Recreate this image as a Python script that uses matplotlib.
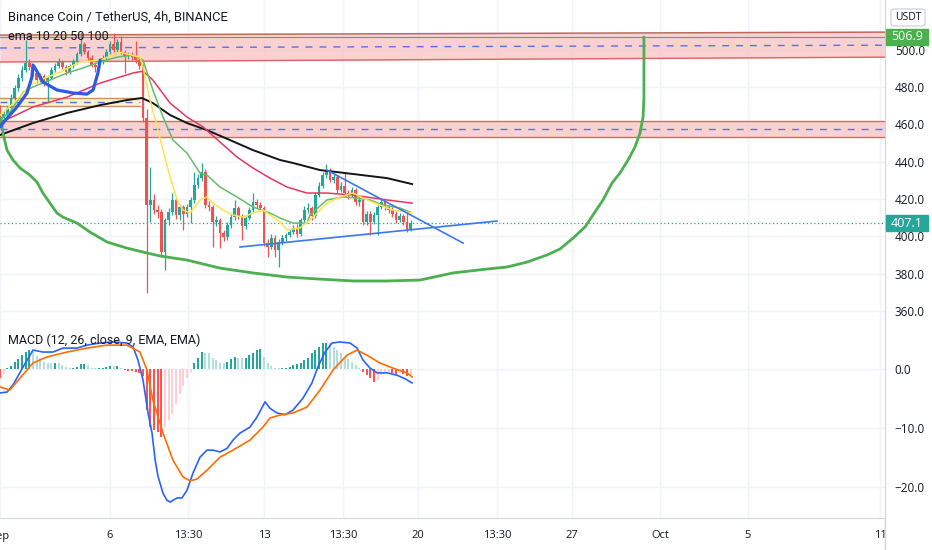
import matplotlib
matplotlib.use("Agg")
import matplotlib.pyplot as plt
import matplotlib.transforms as mtransforms
from matplotlib.patches import Rectangle, FancyBboxPatch

plt.rcParams['font.family'] = ['Open Sans', 'DejaVu Sans']

# ---- price data: 4h candles, x in days of September (first candle Sep 1 00:00)
first_open = 468.7
closes = [463.4, 465.5, 468.7, 474.1, 479.4, 484.8, 489.1, 492.8, 490.7, 487.5,
          483.7, 485.9, 482.7, 484.8, 489.1, 491.2, 493.4, 490.7, 488.0, 491.2,
          493.4, 497.7, 503.0, 498.7, 495.5, 491.8, 490.7, 493.4, 495.5, 498.7,
          503.0, 499.8, 504.1, 498.7, 496.6, 497.7, 496.0, 494.4, 491.2, 463.4,
          416.8, 419.5, 414.1, 413.0, 391.6, 408.7, 413.0, 419.5, 411.4, 415.7,
          412.0, 415.7, 419.5, 427.5, 431.2, 434.5, 416.8, 415.7, 407.7, 408.7,
          401.8, 399.6, 406.1, 410.3, 415.2, 410.9, 405.5, 409.8, 414.1, 418.4,
          416.8, 415.2, 396.4, 394.3, 399.1, 392.7, 397.0, 399.1, 400.7, 402.3,
          404.5, 401.2, 408.7, 414.1, 415.2, 410.9, 422.1, 427.0, 432.8, 435.5,
          430.2, 431.8, 424.8, 427.0, 423.2, 422.1, 424.8, 418.4, 419.5, 407.7,
          412.0, 407.7, 411.4, 415.7, 418.4, 415.7, 414.1, 412.0, 408.7, 410.9,
          407.7, 403.9, 407.1]
highs = [470.5, 467.0, 470.0, 476.0, 481.0, 487.0, 491.0, 505.0, 495.0, 492.0,
         489.0, 487.5, 487.0, 486.5, 490.5, 493.0, 495.5, 494.5, 492.0, 492.5,
         495.0, 499.0, 509.5, 504.0, 500.0, 497.0, 493.5, 494.5, 497.0, 500.5,
         504.5, 509.0, 505.5, 507.5, 500.0, 499.0, 499.0, 504.5, 496.0, 492.5,
         468.0, 437.0, 422.5, 417.0, 414.5, 410.0, 415.0, 423.0, 421.0, 417.5,
         417.0, 417.5, 421.0, 434.5, 433.5, 439.5, 436.0, 419.0, 417.0, 411.0,
         410.0, 403.5, 407.5, 412.0, 419.5, 416.5, 412.0, 411.0, 415.5, 423.0,
         420.0, 418.5, 416.5, 398.5, 401.0, 400.5, 398.5, 400.5, 402.0, 404.0,
         406.0, 406.5, 410.0, 416.0, 418.0, 416.5, 423.5, 429.0, 434.5, 438.5,
         436.5, 434.0, 433.0, 429.0, 434.5, 425.0, 426.5, 426.0, 421.5, 421.0,
         413.5, 413.5, 413.0, 417.0, 420.0, 419.5, 417.0, 415.5, 413.5, 412.5,
         412.0, 413.5, 408.5]
lows = [460.0, 461.5, 464.0, 467.5, 473.0, 478.0, 483.0, 488.0, 489.0, 486.0,
        482.0, 482.5, 480.5, 472.0, 483.5, 488.0, 490.0, 489.5, 486.5, 487.0,
        490.0, 492.5, 496.5, 497.5, 494.0, 490.5, 488.0, 489.5, 492.5, 494.5,
        497.5, 498.5, 498.5, 497.5, 487.5, 495.0, 494.5, 493.0, 489.5, 461.0,
        369.5, 407.5, 412.0, 410.0, 389.0, 382.0, 406.0, 411.5, 409.5, 409.0,
        403.5, 410.5, 407.0, 418.0, 426.0, 429.5, 415.0, 413.5, 394.5, 405.5,
        393.5, 397.5, 398.0, 404.5, 409.0, 409.5, 398.0, 404.0, 408.5, 413.0,
        415.0, 413.5, 395.0, 389.0, 393.0, 389.0, 383.5, 395.5, 397.5, 399.5,
        401.0, 399.5, 400.0, 407.5, 412.5, 409.0, 410.0, 421.0, 426.0, 431.5,
        429.0, 428.5, 423.0, 423.5, 421.5, 420.0, 421.0, 417.0, 416.5, 406.0,
        406.0, 400.5, 406.5, 400.5, 414.5, 414.0, 412.5, 410.5, 407.0, 407.5,
        406.0, 402.5, 403.0]
opens = [first_open] + closes[:-1]
times = [1 + i / 6 for i in range(len(closes))]

# ---- ema 10 20 50 100
ema10_t = [1.0, 1.68, 2.36, 3.05, 3.73, 4.64, 5.55, 6.45, 7.36, 7.5, 7.82, 8.14, 8.41, 8.73,
           9.05, 9.32, 9.64, 10.09, 10.41, 10.68, 11.14, 11.59, 12.05, 12.5, 12.95, 13.41,
           13.73, 14.05, 14.64, 15.23, 15.86, 16.45, 17.05, 17.68, 18.27, 18.86, 19.5, 19.73]
ema10_v = [465.0, 471.9, 481.1, 484.8, 488.0, 493.4, 494.4, 498.7, 496.0, 490.7, 473.0, 458.6,
           446.2, 431.8, 419.5, 414.1, 412.5, 419.5, 421.1, 417.8, 414.1, 411.4, 410.3, 412.5,
           414.1, 410.3, 407.7, 403.4, 404.5, 410.3, 417.8, 421.1, 423.2, 419.5, 416.8, 414.1,
           413.0, 412.5]
ema20_t = [1.0, 1.455, 2.05, 2.5, 4.05, 4.77, 5.55, 6.32, 7.05, 7.5, 7.95, 8.41, 8.86, 9.5,
           10.09, 10.41, 11.0, 11.77, 12.5, 13.27, 13.73, 14.32, 14.95, 15.09, 15.86, 16.59,
           17.23, 17.82, 18.41, 19.18, 19.64]
ema20_v = [462.3, 466.6, 477.3, 480.0, 487.5, 490.2, 493.4, 496.0, 497.1, 494.4, 478.4, 463.9,
           451.6, 444.6, 433.9, 432.8, 426.4, 421.1, 415.7, 412.5, 409.8, 407.1, 407.1, 411.4,
           419.5, 421.1, 420.5, 419.5, 416.8, 415.2, 413.0]
ema50_t = [1.0, 1.455, 2.5, 4.05, 5.55, 7.05, 7.5, 7.95, 8.73, 9.5, 10.23, 11.0, 11.77, 12.5,
           13.27, 14.05, 14.95, 15.86, 17.05, 18.59, 19.73]
ema50_v = [461.2, 463.4, 469.3, 474.6, 482.1, 487.5, 488.5, 483.7, 471.4, 463.9, 458.6, 450.5,
           442.5, 436.6, 431.2, 426.4, 423.2, 423.2, 422.1, 419.5, 417.8]
ema100_t = [1.0, 2.5, 4.05, 5.55, 6.77, 7.45, 7.95, 8.73, 9.5, 10.41, 11.45, 12.5, 13.73,
            14.32, 15.55, 17.05, 18.59, 19.73]
ema100_v = [454.3, 460.7, 466.1, 470.3, 473.0, 474.1, 471.4, 465.0, 460.7, 456.9, 451.6, 446.2,
            440.9, 439.3, 435.5, 433.4, 431.2, 428.0]

# ---- drawings
zone1_t = [1.0, 41.3]
zone1_top = [507.8, 509.4]
zone1_mid = [500.9, 502.4]
zone1_bot = [493.4, 496.0]
zone2_top, zone2_mid, zone2_bot = 461.8, 457.7, 453.2
zone3_t = [1.0, 7.36]
zone3_top, zone3_mid, zone3_bot = 474.1, 472.0, 469.6
hline_green = 506.9
last_price = 407.1

cup_t = [1.045, 1.136, 1.318, 1.59, 1.91, 2.36, 2.68, 2.95, 3.27, 3.59, 3.86, 4.5, 5.09, 5.86,
         6.77, 7.68, 8.27, 9.5, 11.0, 12.5, 14.05, 15.55, 17.05, 18.59, 20.09, 21.59, 23.14,
         24.05, 24.95, 25.86, 26.45, 27.05, 27.59, 27.95, 28.41, 28.82, 29.18, 29.55, 29.86,
         30.09, 30.23, 30.27, 30.27, 30.27]
cup_v = [463.4, 455.3, 446.2, 440.9, 436.6, 432.8, 429.1, 423.2, 417.8, 412.5, 410.3, 407.1,
         402.3, 397.0, 393.7, 391.1, 389.5, 387.3, 383.0, 380.4, 378.2, 377.1, 376.1, 376.1,
         376.6, 380.4, 382.5, 383.6, 386.2, 390.0, 393.2, 399.1, 405.0, 411.4, 419.5, 428.6,
         433.9, 440.9, 447.8, 455.3, 463.9, 474.6, 492.8, 506.8]
brush_t = [1.0, 1.136, 1.77, 2.23, 2.45, 2.5, 2.59, 2.95, 3.59, 4.32, 4.95, 5.23, 5.45, 5.55]
brush_v = [458.6, 460.7, 469.3, 476.8, 485.3, 491.8, 490.2, 482.7, 478.4, 476.8, 476.2, 478.4,
           487.5, 494.4]
trend_low_t, trend_low_v = [11.91, 23.59], [394.3, 408.2]
trend_high_t, trend_high_v = [15.86, 22.05], [435.5, 396.4]

# ---- MACD (12, 26, close, 9)
macd_t = [1.0, 1.32, 1.59, 2.05, 2.5, 2.95, 3.41, 3.86, 4.5, 4.95, 5.55, 6.14, 6.77, 7.05, 7.27,
          7.5, 7.73, 7.91, 8.05, 8.18, 8.41, 8.59, 8.73, 9.05, 9.27, 9.5, 9.77, 10.09, 10.41,
          10.68, 11.0, 11.32, 11.59, 11.91, 12.36, 12.68, 13.05, 13.27, 13.59, 13.95, 14.32,
          14.77, 15.18, 15.45, 15.77, 16.09, 16.45, 16.91, 17.23, 17.5, 17.82, 18.14, 18.59,
          19.05, 19.41, 19.73]
macd_v = [-4.0, -3.85, -2.65, 0.4, 3.27, 2.93, 2.93, 3.6, 3.6, 4.1, 4.46, 4.63, 4.46, 3.78, 1.58,
          -1.8, -7.4, -10.8, -15.3, -18.1, -21.0, -22.2, -22.5, -21.8, -21.8, -20.5, -17.6,
          -14.9, -13.7, -13.7, -14.0, -13.4, -12.0, -10.8, -9.8, -8.1, -5.5, -6.6, -7.4, -7.7,
          -6.9, -4.9, -2.3, 0.4, 2.9, 4.46, 4.63, 4.46, 3.6, 1.58, 0.2, -0.6, -0.6, -1.0, -1.6,
          -2.3]
signal_t = [1.0, 1.45, 1.91, 2.5, 3.14, 4.05, 4.95, 5.86, 6.77, 7.36, 7.68, 7.95, 8.41, 8.86,
            9.32, 9.64, 9.95, 10.41, 11.0, 11.59, 12.36, 12.95, 13.27, 13.73, 14.32, 14.95,
            15.55, 16.14, 16.77, 17.23, 17.68, 18.27, 18.86, 19.5, 19.73]
signal_v = [-3.0, -3.5, -1.5, 1.07, 2.1, 2.93, 3.6, 4.1, 4.1, 2.93, -0.1, -5.2, -10.8, -15.4,
            -18.25, -18.9, -18.6, -17.1, -14.9, -13.7, -12.0, -9.8, -8.25, -7.75, -7.4, -6.4,
            -3.5, -0.1, 2.4, 3.27, 2.4, 1.07, 0.2, -0.6, -1.3]
hist = [-1.5, -0.8, 0.2, 0.6, 1.3, 1.7, 2.4, 3.0, 3.2, 3.0,
        2.3, 1.9, 1.3, 1.1, 1.0, 1.1, 1.0, 0.7, 0.45, 0.3,
        0.3, 0.45, 0.85, 0.85, 0.8, 0.3, 0.2, 0.2, 0.3, 0.45,
        0.6, 0.55, 0.6, 0.2, -0.1, -0.2, -0.3, -0.4, -0.7, -1.2,
        -6.9, -9.7, -10.3, -10.6, -11.4, -9.7, -8.6, -7.5, -5.8, -4.1,
        -2.9, -1.5, -0.4, 1.0, 1.9, 3.0, 2.8, 2.7, 1.9, 1.5,
        1.1, 1.0, 1.3, 1.7, 2.1, 2.0, 1.9, 2.0, 2.4, 2.8,
        3.2, 3.5, 2.1, 1.0, 0.6, 0.3, 0.2, 0.25, 0.3, 0.45,
        0.7, 0.85, 1.1, 1.6, 2.0, 2.7, 3.3, 3.8, 4.4, 4.5,
        4.4, 3.8, 3.3, 2.7, 2.1, 1.7, 1.3, 0.7, 0.2, -0.4,
        -1.0, -1.5, -2.1, -1.8, -1.0, -0.6, -0.4, -0.6, -0.85, -0.7,
        -0.8, -1.1, -1.0]

price_ticks = [360, 380, 400, 420, 440, 460, 480, 500]
macd_ticks = [0, -10, -20]
time_ticks = [1, 6, 9.55, 13, 16.6, 20, 23.6, 27, 31, 35, 41]
time_labels = ["Sep", "6", "13:30", "13", "13:30", "20", "13:30", "27", "Oct", "5", "11"]

UP, DOWN = "#26a69a", "#ef5350"
TXT = "#131722"
GRID = "#f0f3fa"
BORDER = "#d1d4dc"

W, H = 932, 550
fig = plt.figure(figsize=(W / 100, H / 100), dpi=100)
ax = fig.add_axes([0, 230 / H, 885 / W, 320 / H])
axm = fig.add_axes([0, 32 / H, 885 / W, 198 / H], sharex=ax)

xmax = 1 + 885 / 22
for a in (ax, axm):
    a.set_xlim(1.0, xmax)
    for s in a.spines.values():
        s.set_visible(False)
    a.spines["right"].set_visible(True)
    a.spines["right"].set_color(BORDER)
    a.spines["bottom"].set_visible(True)
    a.spines["bottom"].set_color(BORDER)
    a.yaxis.tick_right()
    a.tick_params(axis="y", length=0, pad=7, labelsize=8.5, labelcolor=TXT)
    a.set_xticks(time_ticks)
    a.grid(True, color=GRID, lw=1)
    a.set_axisbelow(True)

ax.set_ylim(355.2, 526.6)
ax.set_yticks(price_ticks)
ax.set_yticklabels([f"{v:.1f}" for v in price_ticks])
ax.tick_params(axis="x", length=0, labelbottom=False)

axm.set_ylim(-25.2, 8.36)
axm.set_yticks(macd_ticks)
axm.set_yticklabels([f"{v:.1f}".replace("-", "\u2212") for v in macd_ticks])
axm.set_xticklabels(time_labels)
axm.tick_params(axis="x", length=0, pad=9, labelsize=8, labelcolor=TXT)

# zones
ax.fill_between(zone1_t, zone1_bot, zone1_top, color="#f8c9c9", alpha=0.85, lw=0, zorder=1)
ax.plot(zone1_t, zone1_top, color="#b86a5e", lw=1.1, zorder=2)
ax.plot(zone1_t, zone1_bot, color="#e06262", lw=1.0, zorder=2)
ax.plot(zone1_t, zone1_mid, color="#5b6ef0", lw=1.0, ls=(0, (5, 5)), zorder=2)
ax.axhspan(zone2_bot, zone2_top, color="#f8c9c9", alpha=0.85, lw=0, zorder=1)
ax.axhline(zone2_top, color="#e06262", lw=1.0, zorder=2)
ax.axhline(zone2_bot, color="#e06262", lw=1.0, zorder=2)
ax.axhline(zone2_mid, color="#5b6ef0", lw=1.0, ls=(0, (5, 5)), zorder=2)
ax.fill_between(zone3_t, zone3_bot, zone3_top, color="#fdf0c8", lw=0, zorder=1)
ax.plot(zone3_t, [zone3_top] * 2, color="#c9906a", lw=1.0, zorder=2)
ax.plot(zone3_t, [zone3_bot] * 2, color="#c9906a", lw=1.0, zorder=2)
ax.plot(zone3_t, [zone3_mid] * 2, color="#5b6ef0", lw=1.0, ls=(0, (5, 5)), zorder=2)
ax.axhline(hline_green, color="#4caf50", lw=0.8, zorder=2)
ax.axhline(last_price, color=UP, lw=0.9, ls=(0, (1, 2)), zorder=2)

# candles
for t, o, h, l, c in zip(times, opens, highs, lows, closes):
    col = UP if c >= o else DOWN
    ax.vlines(t, l, h, color=col, lw=0.9, zorder=3)
    ax.bar(t, abs(c - o) if abs(c - o) > 0.3 else 0.3, bottom=min(o, c), width=0.12,
           color=col, lw=0, zorder=3)

# moving averages
ax.plot(ema100_t, ema100_v, color="#141414", lw=1.4, zorder=4)
ax.plot(ema50_t, ema50_v, color="#e8375e", lw=1.1, zorder=4)
ax.plot(ema20_t, ema20_v, color="#66bb6a", lw=1.1, zorder=4)
ax.plot(ema10_t, ema10_v, color="#fbe54a", lw=1.1, zorder=4)

# user drawings
ax.plot(cup_t, cup_v, color="#4caf50", lw=2.0, zorder=5, solid_capstyle="round",
        solid_joinstyle="round")
ax.plot(brush_t, brush_v, color="#2f5ae8", lw=2.3, zorder=5, solid_capstyle="round",
        solid_joinstyle="round")
ax.plot(trend_low_t, trend_low_v, color="#3a78f2", lw=1.2, zorder=5)
ax.plot(trend_high_t, trend_high_v, color="#3a78f2", lw=1.2, zorder=5)

# MACD pane
hist_colors = []
for i, v in enumerate(hist):
    prev = hist[i - 1] if i > 0 else v
    if v >= 0:
        hist_colors.append("#26a69a" if v >= prev else "#b2dfdb")
    else:
        hist_colors.append("#ff5252" if v <= prev else "#ffcdd2")
axm.bar(times, hist, width=0.09, color=hist_colors, lw=0, zorder=3)
axm.plot(macd_t, macd_v, color="#2962ff", lw=1.2, zorder=4, solid_joinstyle="round")
axm.plot(signal_t, signal_v, color="#ff6d00", lw=1.2, zorder=4, solid_joinstyle="round")

# texts
fig.text(8 / W, 1 - 17 / H, "Binance Coin / TetherUS, 4h, BINANCE", fontsize=9.3,
         color=TXT, va="center", ha="left", family=["Roboto", "DejaVu Sans"])
fig.text(8 / W, 1 - 37 / H, "ema 10 20 50 100", fontsize=9, color=TXT, va="center",
         ha="left", family=["Roboto", "DejaVu Sans"])
fig.text(8 / W, 1 - 340 / H, "MACD (12, 26, close, 9, EMA, EMA)", fontsize=9, color=TXT,
         va="center", ha="left", family=["Roboto", "DejaVu Sans"])

# price labels on the scale
tr = mtransforms.blended_transform_factory(fig.transFigure, ax.transData)
for val, col in [(hline_green, "#4caf50"), (last_price, UP)]:
    ax.add_patch(Rectangle((886 / W, val - 4.3), 42 / W, 8.6, transform=tr, color=col,
                           clip_on=False, zorder=6))
    ax.text(907 / W, val, f"{val:.1f}", transform=tr, color="white", fontsize=9,
            ha="center", va="center", clip_on=False, zorder=7)

fig.patches.append(FancyBboxPatch((891 / W, 1 - 26 / H), 34 / W, 17 / H,
                                  boxstyle="round,pad=0,rounding_size=0.004",
                                  transform=fig.transFigure, fc="white", ec="#c8cbd3", lw=0.8))
fig.text(908 / W, 1 - 17.5 / H, "USDT", fontsize=7.5, color=TXT, ha="center", va="center")

# hide the part of the time scale under the price scale
fig.add_artist(Rectangle((886 / W, 0), 46 / W, 31 / H, transform=fig.transFigure,
                         color="white", zorder=10))
fig.add_artist(plt.Line2D([885 / W, 885 / W], [0, 32 / H], transform=fig.transFigure,
                          color=BORDER, lw=1, zorder=11))

fig.savefig("out.png", dpi=100, facecolor="white")
